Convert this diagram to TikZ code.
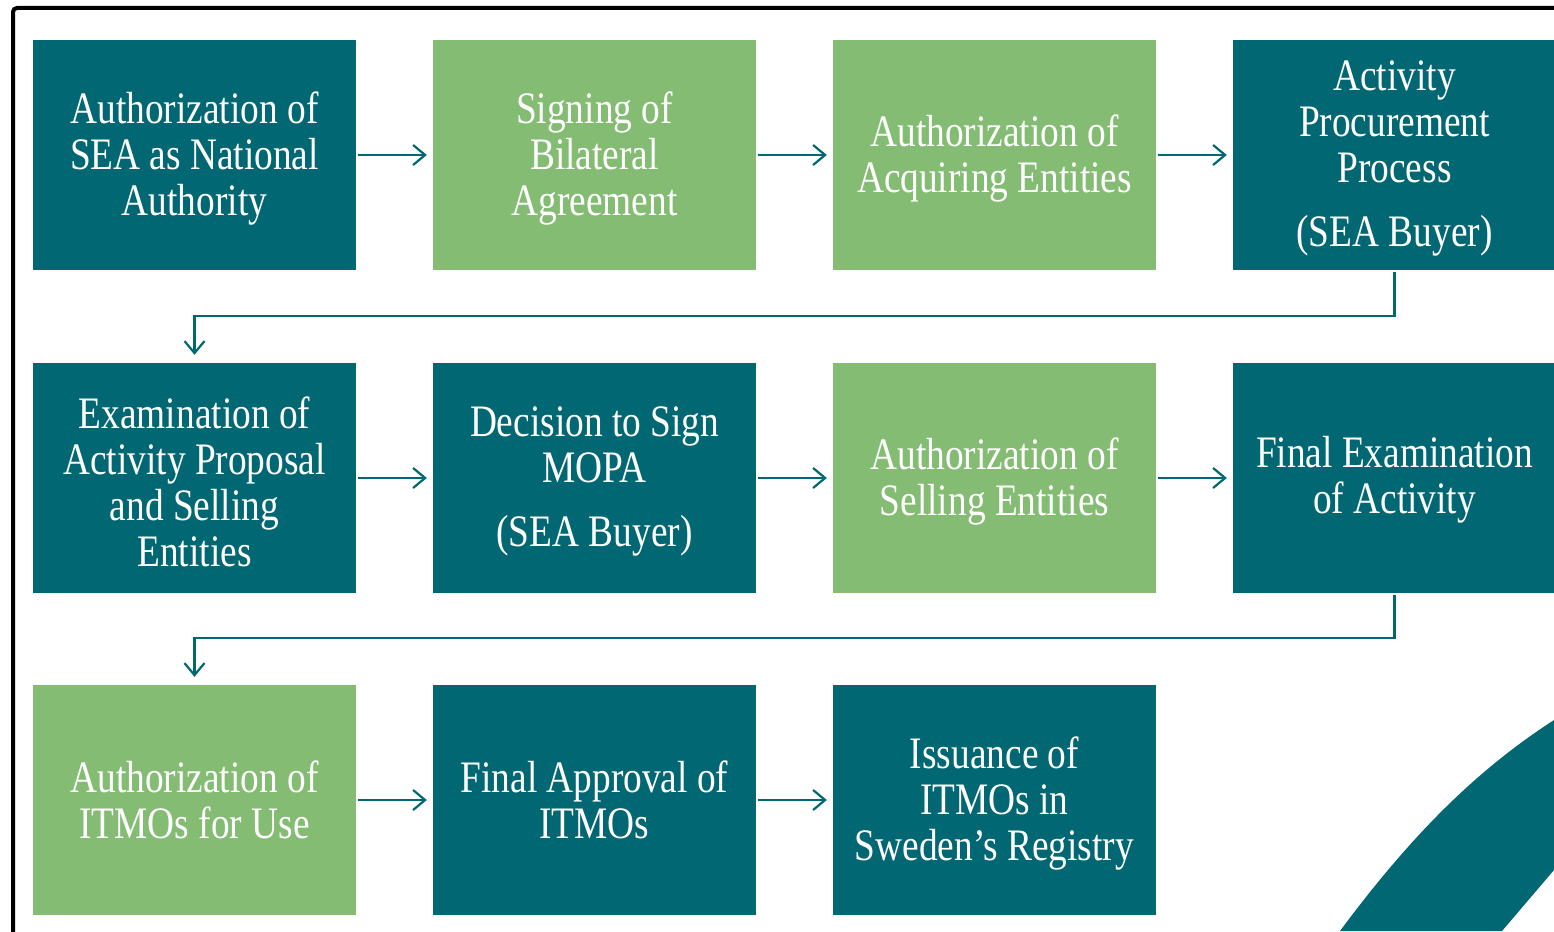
\documentclass[tikz,border=0pt]{standalone}
\usepackage{fontspec}
\setmainfont{Liberation Serif}[FakeStretch=0.83]
\usetikzlibrary{arrows.meta,calc}
\definecolor{teal}{RGB}{0,103,115}
\definecolor{leaf}{RGB}{132,188,116}
\tikzset{
  stepbox/.style={minimum width=323pt, minimum height=230pt, inner sep=0pt},
  boxtext/.style={text=white, align=center, inner sep=0pt, yshift=-3.5pt,
    font=\fontsize{45}{46}\selectfont},
  hightext/.style={boxtext, yshift=4pt},
  tealbox/.style={stepbox, fill=teal, label={[boxtext]center:{#1}}},
  greenbox/.style={stepbox, fill=leaf, label={[boxtext]center:{#1}}},
  arr/.style={draw=teal, line width=2.2pt,
    -{Straight Barb[length=12pt,width=20pt,line width=2.2pt]},
    shorten <=2pt, shorten >=6pt},
}
\begin{document}
\begin{tikzpicture}[x=1pt,y=-1pt]
\useasboundingbox (0,0) rectangle (1554,931);
\clip (0,0) rectangle (1554,931);
% frame
\draw[line width=4pt, rounded corners=4pt] (13,8) rectangle (1700,1100);
% swoosh
\fill[teal] (1340,931) .. controls (1415,830) and (1480,768) .. (1554,720) -- (1554,870) -- (1502,931) -- cycle;
% row 1
\node[tealbox={Authorization of\\SEA as National\\Authority}] (n1) at (194.5,155) {};
\node[greenbox={Signing of\\Bilateral\\Agreement}] (n2) at (594.5,155) {};
\node[greenbox={Authorization of\\Acquiring Entities}] (n3) at (994.5,155) {};
\node[tealbox={Activity\\Procurement\\Process\\[18pt](SEA Buyer)}] (n4) at (1394.5,155) {};
% row 2
\node[tealbox={Examination of\\Activity Proposal\\and Selling\\Entities}] (n5) at (194.5,478) {};
\node[tealbox={Decision to Sign\\MOPA\\[18pt](SEA Buyer)}] (n6) at (594.5,478) {};
\node[greenbox={Authorization of\\Selling Entities}] (n7) at (994.5,478) {};
\node[stepbox, fill=teal, label={[boxtext, yshift=2pt]center:{Final Examination\\of Activity}}] (n8) at (1394.5,478) {};
% row 3
\node[stepbox, fill=leaf, label={[hightext]center:{Authorization of\\ITMOs for Use}}] (n9) at (194.5,800) {};
\node[stepbox, fill=teal, label={[hightext]center:{Final Approval of\\ITMOs}}] (n10) at (594.5,800) {};
\node[tealbox={Issuance of\\ITMOs in\\Sweden’s Registry}] (n11) at (994.5,800) {};
% connectors
\coordinate (r1) at (0,316);
\coordinate (r2) at (0,638);
\draw[arr] (n1) -- (n2);
\draw[arr] (n2) -- (n3);
\draw[arr] (n3) -- (n4);
\draw[arr, shorten >=8pt] (n4.south) -- (n4.south |- r1) -| (n5.north);
\draw[arr] (n5) -- (n6);
\draw[arr] (n6) -- (n7);
\draw[arr] (n7) -- (n8);
\draw[arr, shorten >=8pt] (n8.south) -- (n8.south |- r2) -| (n9.north);
\draw[arr] (n9) -- (n10);
\draw[arr] (n10) -- (n11);
\end{tikzpicture}
\end{document}
